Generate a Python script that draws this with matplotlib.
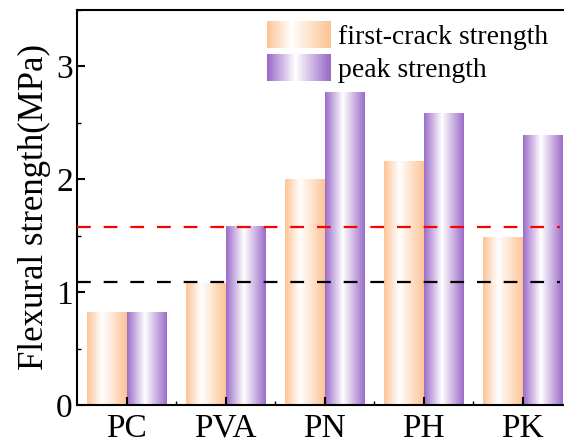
import numpy as np
import matplotlib
matplotlib.use('Agg')
from matplotlib import pyplot as plt
from matplotlib.colors import LinearSegmentedColormap
from matplotlib.patches import Rectangle
from matplotlib.legend_handler import HandlerBase
from matplotlib.ticker import MultipleLocator, FixedLocator

plt.rcParams['font.family'] = 'Liberation Serif'

groups = ['PC', 'PVA', 'PN', 'PH', 'PK']
first_crack = [0.82, 1.08, 2.00, 2.16, 1.48]
peak = [0.82, 1.58, 2.77, 2.58, 2.39]
ref_red = 1.58
ref_black = 1.09

orange = '#FDC496'
purple = '#9C6CC9'
cmap_o = LinearSegmentedColormap.from_list('o', [orange, '#FFFFFF', orange])
cmap_p = LinearSegmentedColormap.from_list('p', [purple, '#FFFFFF', purple])
# where the white sits across the bar
white_o = 0.38
white_p = 0.45

fig = plt.figure(figsize=(5.64, 4.44), dpi=100)
ax = fig.add_axes([77 / 564, (444 - 405) / 444, (572 - 77) / 564, (405 - 10) / 444])

x = np.arange(len(groups))
w = 0.4


def grad_row(wpos):
    g = np.linspace(0, 1, 256).reshape(1, -1)
    return np.interp(g, [0, wpos, 1], [0, 0.5, 1])


def grad_bar(xl, h, cmap, wpos):
    ax.imshow(grad_row(wpos), cmap=cmap, extent=[xl, xl + w, 0, h], aspect='auto', zorder=1,
              interpolation='bilinear', vmin=0, vmax=1)


for i in range(len(groups)):
    grad_bar(x[i] - w, first_crack[i], cmap_o, white_o)
    grad_bar(x[i], peak[i], cmap_p, white_p)

ax.axhline(ref_red, color='#FF0000', lw=1.6, dashes=(6.2, 5.8), xmin=0, xmax=0.975, zorder=3)
ax.axhline(ref_black, color='black', lw=1.6, dashes=(6.2, 5.8), xmin=0, xmax=0.975, zorder=3)

ax.set_xlim(-0.5, 4.5)
ax.set_ylim(0, 3.5)
ax.set_xticks(x)
ax.set_xticklabels(groups)
ax.xaxis.set_minor_locator(FixedLocator(x[:-1] + 0.5))
ax.yaxis.set_major_locator(MultipleLocator(1))
ax.yaxis.set_minor_locator(MultipleLocator(0.5))
ax.tick_params(which='both', direction='in', labelsize=24)
ax.tick_params(which='major', length=6, width=1.5)
ax.tick_params(which='minor', length=3, width=1)
ax.tick_params(axis='x', pad=6)
ax.tick_params(axis='y', pad=3)
for s in ax.spines.values():
    s.set_linewidth(1.5)
ax.set_ylabel('Flexural strength(MPa)', fontsize=25, labelpad=4)


class GradHandler(HandlerBase):
    def __init__(self, cmap, wpos):
        super().__init__()
        self.cmap = cmap
        self.wpos = wpos

    def create_artists(self, legend, orig_handle, xdescent, ydescent, width, height, fontsize, trans):
        arts = []
        n = 40
        for k in range(n):
            c = self.cmap(float(np.interp(k / (n - 1), [0, self.wpos, 1], [0, 0.5, 1])))
            r = Rectangle((-xdescent + width * k / n, -ydescent), width / n + 0.3, height,
                          facecolor=c, edgecolor='none', transform=trans)
            arts.append(r)
        return arts


h1 = Rectangle((0, 0), 1, 1)
h2 = Rectangle((0, 0), 1, 1)
ax.legend([h1, h2], ['first-crack strength', 'peak strength'],
          handler_map={h1: GradHandler(cmap_o, white_o), h2: GradHandler(cmap_p, white_p)},
          loc='upper left', bbox_to_anchor=(0.384, 0.972), frameon=False, fontsize=20,
          borderpad=0, borderaxespad=0,
          handlelength=2.27, handleheight=1.14, handletextpad=0.3, labelspacing=0.12)

fig.savefig('out.png', dpi=100)
